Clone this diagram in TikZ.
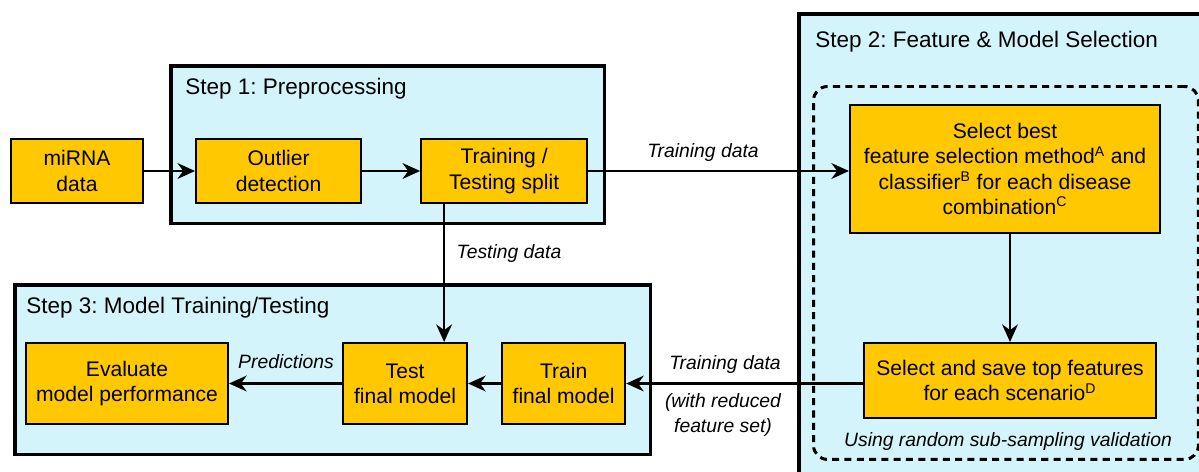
\documentclass[tikz,border=0pt]{standalone}
\usepackage{fontspec}
\setmainfont{Liberation Sans}
\usepackage{tikz}
\usetikzlibrary{arrows.meta,positioning,calc}
\definecolor{boxyellow}{RGB}{255,200,0}
\definecolor{steppanel}{RGB}{212,244,252}
\frenchspacing
\tikzset{
    flow/.style={-{Stealth[length=10pt, width=9pt]}, line width=1.3pt},
    procbox/.style={draw, line width=1.2pt, fill=boxyellow, align=center, inner sep=2pt, font=\fontsize{12}{14.4}\selectfont},
    stepbox/.style={draw, line width=2pt, fill=steppanel, anchor=north west, inner sep=0pt},
    cvbox/.style={draw, dash pattern=on 4pt off 3pt, line width=1.7pt, rounded corners=8pt, anchor=north west, inner sep=0pt},
    steptitle/.style={anchor=west, inner sep=0pt, font=\fontsize{12.8}{15}\selectfont},
    flowlabel/.style={align=center, inner sep=1pt, font=\fontsize{11}{13.7}\selectfont\itshape}
}

\begin{document}
\begin{tikzpicture}[x=0.02cm, y=-0.02cm]
    \useasboundingbox (0,0) rectangle (1199,471);
    \clip (0,0) rectangle (1199,471);
    % panels
    \node[stepbox, minimum width=8.68cm, minimum height=3.16cm] (step1) at (169,64) {};
    \node[stepbox, minimum width=9cm, minimum height=10cm] (step2) at (797,12) {};
    \node[stepbox, minimum width=12.72cm, minimum height=3.4cm] (step3) at (13,283) {};
    \node[cvbox, minimum width=7.7cm, minimum height=7.46cm] (cv) at (812,85) {};
    \node[steptitle] (title1) at (185,89) {Step 1: Preprocessing};
    \node[steptitle] (title2) at (815,42) {Step 2: Feature \& Model Selection};
    \node[steptitle] (title3) at (26,308) {Step 3: Model Training/Testing};

    \node[procbox, minimum width=2.64cm, minimum height=1.28cm] (mirna) at (77,171) {miRNA\\data};
    \node[procbox, minimum width=3.3cm, minimum height=1.28cm, right=1.02cm of mirna] (outlier) {Outlier\\detection};
    \node[procbox, minimum width=3.32cm, minimum height=1.28cm, right=1.16cm of outlier] (split) {Training /\\Testing split};
    \node[procbox, minimum width=6.2cm, minimum height=2.56cm] (best) at (1005,169) {Select best\\feature selection method\textsuperscript{A} and\\classifier\textsuperscript{B} for each disease\\combination\textsuperscript{C}};
    \node[procbox, minimum width=5.84cm, minimum height=1.5cm] (topfeat) at (1010,380.5) {Select and save top features\\for each scenario\textsuperscript{D}};
    \node[procbox, minimum width=4.04cm, minimum height=1.62cm] (evaluate) at (127,383.5) {Evaluate\\model performance};
    \node[procbox, minimum width=2.48cm, minimum height=1.62cm, right=2.26cm of evaluate] (test) {Test\\final model};
    \node[procbox, minimum width=2.46cm, minimum height=1.62cm, right=0.66cm of test] (train) {Train\\final model};

    \draw[flow] (mirna) -- (outlier);
    \draw[flow] (outlier) -- (split);
    \draw[flow] (split.east) -- (split.east -| best.west);
    \draw[flow] ([xshift=0.48cm]split.south west) -- ([xshift=0.48cm]split.south west |- test.north);
    \draw[flow] (best.south -| topfeat.north) -- (topfeat.north);
    \draw[flow] (topfeat.west |- train.east) -- (train.east);
    \draw[flow] (train) -- (test);
    \draw[flow] (test) -- (evaluate);

    \node[flowlabel] (trainlbl) at (703,152) {Training data};
    \node[flowlabel] (testlbl) at (509,253) {Testing data};
    \node[flowlabel] (predlbl) at (286,362) {Predictions};
    \node[flowlabel] (reducedlbl) at (725,364) {Training data};
    \node[flowlabel] (reducednote) at (723,415) {(with reduced\\feature set)};
    \node[flowlabel] (cvlbl) at (1008,441) {Using random sub-sampling validation};
\end{tikzpicture}
\end{document}
